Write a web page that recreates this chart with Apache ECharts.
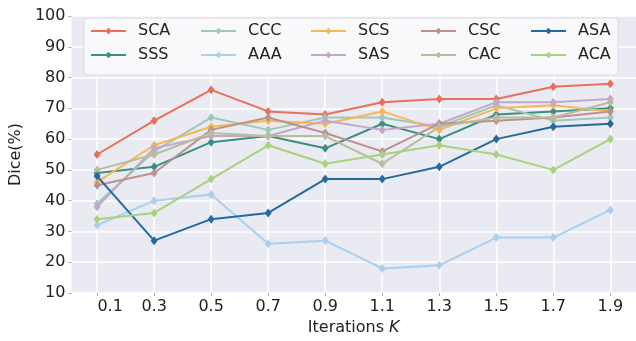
<!DOCTYPE html>
<html>
<head>
<meta charset="utf-8">
<script src="https://cdn.jsdelivr.net/npm/echarts@6/dist/echarts.min.js"></script>
<style>html,body{margin:0;padding:0;background:#fff}#c{width:636px;height:341px}</style>
</head>
<body>
<div id="c"></div>
<script>
const xValues = [0.1, 0.3, 0.5, 0.7, 0.9, 1.1, 1.3, 1.5, 1.7, 1.9];
const yTicks = [10, 20, 30, 40, 50, 60, 70, 80, 90, 100];
const seriesNames = ['SCA', 'SSS', 'CCC', 'AAA', 'SCS', 'SAS', 'CSC', 'CAC', 'ASA', 'ACA'];
const SCA = [55, 66, 76, 69, 68, 72, 73, 73, 77, 78];
const SSS = [49, 51, 59, 61, 57, 65, 60, 68, 69, 70];
const CCC = [39, 56, 67, 63, 67, 67, 64, 71, 66, 67];
const AAA = [32, 40, 42, 26, 27, 18, 19, 28, 28, 37];
const SCS = [46, 58, 64, 66, 65, 69, 63, 70, 71, 69];
const SAS = [38, 57, 61, 61, 66, 63, 65, 72, 72, 73];
const CSC = [45, 49, 63, 67, 62, 56, 65, 66, 67, 69];
const CAC = [50, 55, 62, 61, 61, 52, 64, 67, 67, 72];
const ASA = [48, 27, 34, 36, 47, 47, 51, 60, 64, 65];
const ACA = [34, 36, 47, 58, 52, 55, 58, 55, 50, 60];
const seriesData = { SCA, SSS, CCC, AAA, SCS, SAS, CSC, CAC, ASA, ACA };
const colors = {
  SCA: '#e8705b', SSS: '#3a8f81', CCC: '#9dc9ba', AAA: '#a9cff1', SCS: '#f6b757',
  SAS: '#c2a6cb', CSC: '#bc918c', CAC: '#b9bd9c', ASA: '#246aa0', ACA: '#a8d27e'
};
const legendRow1 = ['SCA', 'CCC', 'SCS', 'CSC', 'ASA'];
const legendRow2 = ['SSS', 'AAA', 'SAS', 'CAC', 'ACA'];

const FONT = 'DejaVu Sans';
const TXT = '#222222';
const chart = echarts.init(document.getElementById('c'), null, { renderer: 'canvas' });

const legendText = { fontFamily: FONT, fontSize: 16, color: TXT, width: 34, lineHeight: 18, padding: [0, 0, 0, 7] };

chart.setOption({
  animation: false,
  backgroundColor: '#ffffff',
  grid: { left: 68, top: 16, width: 573, height: 284, show: true, backgroundColor: '#eaeaf2', borderWidth: 0 },
  legend: [
    {
      data: legendRow1, left: 84, top: 18, width: 590, orient: 'horizontal', z: 30,
      itemWidth: 35, itemHeight: 8, itemGap: 28,
      padding: [4, 6, 35, 6],
      backgroundColor: '#f9f9fb', borderColor: '#dcdce3', borderWidth: 1, borderRadius: 4,
      textStyle: legendText
    },
    {
      data: legendRow2, left: 84, top: 46, width: 590, orient: 'horizontal', z: 31,
      itemWidth: 35, itemHeight: 8, itemGap: 28,
      padding: [0, 6, 0, 6],
      textStyle: legendText
    }
  ],
  xAxis: {
    type: 'value', min: 0.01, max: 1.99,
    name: 'Iterations {i|K}', nameLocation: 'middle', nameGap: 27,
    nameTextStyle: { fontFamily: FONT, fontSize: 16, color: TXT, rich: { i: { fontFamily: FONT, fontSize: 16, fontStyle: 'italic', color: TXT } } },
    axisLine: { show: false },
    axisTick: { show: true, length: 3, lineStyle: { color: '#aaaaaa' }, customValues: xValues },
    axisLabel: {
      customValues: xValues, margin: 6, fontFamily: FONT, fontSize: 16, color: TXT,
      formatter: function (v) {
        const s = v.toFixed(1);
        return Math.abs(v - xValues[0]) < 1e-6 ? '{f|' + s + '}' : s;
      },
      rich: { f: { fontFamily: FONT, fontSize: 16, color: TXT, padding: [0, 0, 0, 26] } }
    },
    splitLine: { show: true, lineStyle: { color: '#ffffff', width: 1.6 } }
  },
  yAxis: {
    type: 'value', min: yTicks[0], max: yTicks[yTicks.length - 1], interval: 10,
    name: 'Dice(%)', nameLocation: 'middle', nameGap: 46, nameRotate: 90,
    nameTextStyle: { fontFamily: FONT, fontSize: 16, color: TXT },
    axisLine: { show: false },
    axisTick: { show: true, length: 3, lineStyle: { color: '#aaaaaa' } },
    axisLabel: { margin: 6, fontFamily: FONT, fontSize: 16, color: TXT },
    splitLine: { show: true, lineStyle: { color: '#ffffff', width: 1.6 } }
  },
  series: seriesNames.map(function (n, i) {
    return {
      name: n, type: 'line', z: 2 + i,
      data: xValues.map(function (x, j) { return [x, seriesData[n][j]]; }),
      symbol: 'diamond', symbolSize: [7, 9], showSymbol: true,
      lineStyle: { color: colors[n], width: 2 },
      itemStyle: { color: colors[n] },
      emphasis: { disabled: true }
    };
  })
});
</script>
</body>
</html>
